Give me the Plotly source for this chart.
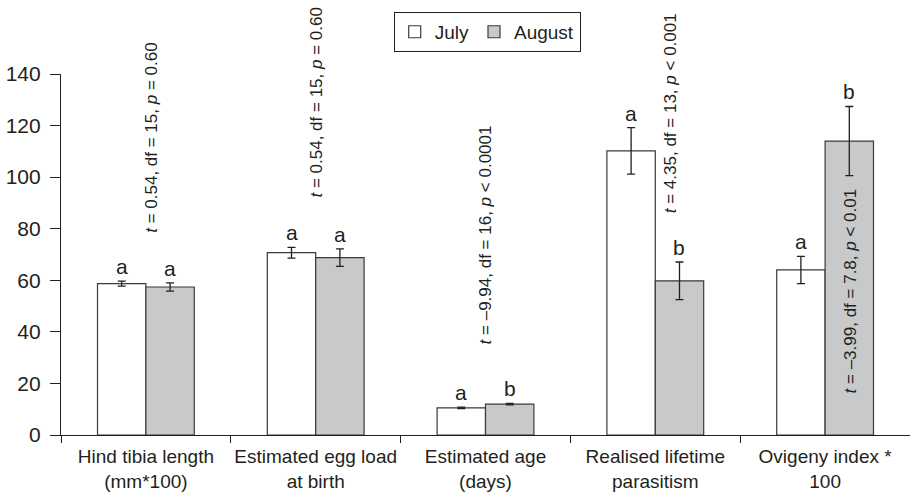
import plotly.graph_objects as go

categories = ["Hind tibia length<br>(mm*100)", "Estimated egg load<br>at birth",
              "Estimated age<br>(days)", "Realised lifetime<br>parasitism", "Ovigeny index *<br>100"]
july = [58.7, 70.7, 10.5, 110.2, 64.0]
july_err = [1.0, 2.1, 0.3, 9.0, 5.3]
august = [57.4, 68.8, 12.0, 59.8, 114.0]
august_err = [1.6, 3.4, 0.3, 7.3, 13.4]
july_letters = ["a", "a", "a", "a", "a"]
august_letters = ["a", "a", "b", "b", "b"]
stat_texts = [
    "<i>t</i> = 0.54, df = 15, <i>p</i> = 0.60",
    "<i>t</i> = 0.54, df = 15, <i>p</i> = 0.60",
    "<i>t</i> = –9.94, df = 16, <i>p</i> < 0.0001",
    "<i>t</i> = 4.35, df = 13, <i>p</i> < 0.001",
    "<i>t</i> = –3.99, df = 7.8, <i>p</i> < 0.01",
]
# placement of the rotated statistics text (y centre in data units, x shift in px)
stat_y = [115.6, 129.2, 77.6, 124.9, 55.7]
stat_dx = [6, 1, 0, 16, 25]

FONT = "Liberation Sans, Arial, sans-serif"
INK = "#231f20"
EDGE = "#3a3a3a"

fig = go.Figure()
fig.add_trace(go.Bar(
    name="July", x=categories, y=july,
    marker=dict(color="white", line=dict(color=EDGE, width=1.2)),
    error_y=dict(type="data", array=july_err, visible=True, color=INK, thickness=1.3, width=4),
))
fig.add_trace(go.Bar(
    name="August", x=categories, y=august,
    marker=dict(color="#c8c9cb", line=dict(color=EDGE, width=1.2)),
    error_y=dict(type="data", array=august_err, visible=True, color=INK, thickness=1.3, width=4),
))

plot_w = 910 - 61 - 0
bar_px = plot_w / len(categories) * (1 - 0.43) / 2
anns = []
for i, c in enumerate(categories):
    anns.append(dict(x=c, y=july[i] + july_err[i], text=july_letters[i], showarrow=False,
                     xshift=-bar_px / 2, yanchor="bottom", yshift=1,
                     font=dict(size=21, color=INK, family=FONT)))
    anns.append(dict(x=c, y=august[i] + august_err[i], text=august_letters[i], showarrow=False,
                     xshift=bar_px / 2, yanchor="bottom", yshift=1,
                     font=dict(size=21, color=INK, family=FONT)))
    anns.append(dict(x=c, y=stat_y[i], text=stat_texts[i], showarrow=False, textangle=-90,
                     xshift=stat_dx[i], xanchor="center", yanchor="middle",
                     font=dict(size=17, color=INK, family=FONT)))

fig.update_layout(
    width=910, height=492,
    margin=dict(l=61, r=0, t=74, b=57, autoexpand=False),
    paper_bgcolor="white", plot_bgcolor="white",
    barmode="group", bargap=0.43, bargroupgap=0,
    font=dict(family=FONT, size=18, color=INK),
    showlegend=True,
    legend=dict(orientation="h", x=0.502, xanchor="center", y=1.172, yanchor="top",
                bordercolor=INK, borderwidth=1, font=dict(size=19, color=INK),
                itemwidth=30, tracegroupgap=0),
    annotations=anns,
    xaxis=dict(showline=True, linecolor=INK, linewidth=1.2, ticks="outside",
               tickson="boundaries", ticklen=7, tickcolor=INK, tickwidth=1.2,
               ticklabelstandoff=4,
               tickangle=0, showgrid=False, tickfont=dict(size=19, color=INK), automargin=False),
    yaxis=dict(range=[0, 140], dtick=20, showline=True, linecolor=INK, linewidth=1.2,
               ticks="outside", ticklen=10, tickcolor=INK, tickwidth=1.2,
               ticklabelstandoff=5, automargin=False,
               showgrid=False, zeroline=False, tickfont=dict(size=21, color=INK)),
)

fig.write_html("out.html", config={"displayModeBar": False},
               post_script="document.body.style.margin='0px';document.body.style.overflow='hidden';")
